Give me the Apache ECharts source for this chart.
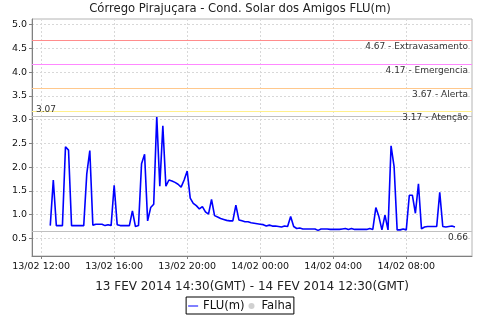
<!DOCTYPE html>
<html><head><meta charset="utf-8">
<script src="https://cdn.jsdelivr.net/npm/echarts@6/dist/echarts.min.js"></script>
<style>html,body{margin:0;padding:0;background:#fff}#c{width:480px;height:320px}</style>
</head><body><div id="c"></div>
<script>
// Sampling: every 10 minutes from 13/02 12:30 (local)
const startTime = Date.UTC(2014, 1, 13, 12, 30);
const stepMinutes = 10;
const levelValues = [
  0.77, 1.73, 0.77, 0.77, 0.77, 2.43, 2.36, 0.77, 0.77, 0.77,
  0.77, 0.77, 1.86, 2.35, 0.78, 0.80, 0.80, 0.80, 0.77, 0.79,
  0.77, 1.62, 0.79, 0.77, 0.77, 0.77, 0.77, 1.08, 0.75, 0.77,
  2.07, 2.27, 0.87, 1.15, 1.22, 3.07, 1.60, 2.87, 1.60, 1.73,
  1.71, 1.68, 1.64, 1.58, 1.73, 1.92, 1.35, 1.24, 1.19, 1.12,
  1.17, 1.06, 1.01, 1.32, 0.98, 0.95, 0.92, 0.90, 0.88, 0.87,
  0.87, 1.20, 0.89, 0.87, 0.85, 0.85, 0.83, 0.82, 0.81, 0.80,
  0.79, 0.76, 0.78, 0.76, 0.76, 0.75, 0.74, 0.76, 0.75, 0.96,
  0.75, 0.71, 0.72, 0.70, 0.70, 0.70, 0.70, 0.70, 0.67, 0.70,
  0.70, 0.70, 0.69, 0.69, 0.69, 0.69, 0.70, 0.71, 0.69, 0.71,
  0.69, 0.69, 0.69, 0.69, 0.69, 0.71, 0.69, 1.15, 0.96, 0.68,
  0.99, 0.68, 2.45, 2.01, 0.68, 0.68, 0.70, 0.68, 1.41, 1.41,
  1.03, 1.65, 0.70, 0.74, 0.75, 0.75, 0.75, 0.75, 1.47, 0.75,
  0.74, 0.75, 0.76, 0.74
];
const xTickTimes = [
  Date.UTC(2014, 1, 13, 12), Date.UTC(2014, 1, 13, 16), Date.UTC(2014, 1, 13, 20),
  Date.UTC(2014, 1, 14, 0), Date.UTC(2014, 1, 14, 4), Date.UTC(2014, 1, 14, 8)
];
const xTickLabels = ['13/02 12:00', '13/02 16:00', '13/02 20:00', '14/02 00:00', '14/02 04:00', '14/02 08:00'];
const yTickValues = [0.5, 1.0, 1.5, 2.0, 2.5, 3.0, 3.5, 4.0, 4.5, 5.0];
const thresholdValues = [4.67, 4.17, 3.67, 3.17];
const thresholdNames = ['Extravasamento', 'Emergencia', 'Alerta', 'Atenção'];
const thresholdColors = ['#ff8c8c', '#ff88ff', '#ffc88c', '#fff08c'];
const maxLevel = 3.07;
const minLevel = 0.66;
const xMin = Date.UTC(2014, 1, 13, 11, 30);
const xMax = Date.UTC(2014, 1, 14, 11, 36);

const FONT = 'DejaVu Sans';
const seriesData = levelValues.map((v, i) => [startTime + i * stepMinutes * 60000, v]);

const markData = thresholdValues.map((v, i) => ({
  yAxis: v,
  lineStyle: { color: thresholdColors[i], width: 1, type: 'solid' },
  label: { formatter: v.toFixed(2) + ' - ' + thresholdNames[i], position: 'insideEndBottom' }
}));
markData.push({
  yAxis: maxLevel,
  lineStyle: { color: '#c0c0c0', width: 1, type: 'solid' },
  label: { formatter: maxLevel.toFixed(2), position: 'insideStartTop' }
});
markData.push({
  yAxis: minLevel,
  lineStyle: { color: '#c0c0c0', width: 1, type: 'solid' },
  label: { formatter: minLevel.toFixed(2), position: 'insideEndBottom' }
});

const chart = echarts.init(document.getElementById('c'), null, { renderer: 'canvas' });
chart.setOption({
  animation: false,
  backgroundColor: '#ffffff',
  textStyle: { fontFamily: FONT },
  title: {
    text: 'Córrego Pirajuçara - Cond. Solar dos Amigos FLU(m)',
    left: 'center', top: -2,
    textStyle: { fontFamily: FONT, fontSize: 11.6, fontWeight: 'normal', color: '#222' }
  },
  grid: { left: 32, right: 8, top: 19, bottom: 64, show: true, borderColor: '#b4b4b4', borderWidth: 1, backgroundColor: '#fff' },
  xAxis: {
    type: 'value', min: xMin, max: xMax,
    name: '13 FEV 2014 14:30(GMT) - 14 FEV 2014 12:30(GMT)',
    nameLocation: 'middle', nameGap: 25,
    nameTextStyle: { fontFamily: FONT, fontSize: 12, color: '#222' },
    axisLine: { lineStyle: { color: '#808080' } },
    axisTick: { show: true, length: 3, customValues: xTickTimes, lineStyle: { color: '#808080' } },
    axisLabel: {
      customValues: xTickTimes, fontFamily: FONT, fontSize: 9.5, color: '#111', margin: 6,
      formatter: (v) => xTickLabels[xTickTimes.indexOf(v)] || ''
    },
    splitLine: { show: true, lineStyle: { color: '#d8d8d8', type: [2, 2] } }
  },
  yAxis: {
    type: 'value', min: 0.13, max: 5.12,
    axisLine: { show: true, lineStyle: { color: '#808080' } },
    axisTick: { show: true, length: 3, customValues: yTickValues, lineStyle: { color: '#808080' } },
    axisLabel: {
      customValues: yTickValues, fontFamily: FONT, fontSize: 9.5, color: '#111', margin: 5,
      formatter: (v) => v.toFixed(1)
    },
    splitLine: { show: true, lineStyle: { color: '#d8d8d8', type: [2, 2] } }
  },
  legend: {
    top: 297, left: 'center',
    data: [{ name: 'FLU(m)', icon: 'path://M0,0 L20,0 L20,2 L0,2 Z' }, { name: 'Falha', icon: 'circle' }],
    itemWidth: 10, itemHeight: 6, itemGap: 4,
    borderColor: '#000', borderWidth: 1, padding: [3, 2, 2, 2],
    textStyle: { fontFamily: FONT, fontSize: 11.6, color: '#111' }
  },
  series: [
    {
      name: 'FLU(m)', type: 'line', data: seriesData, symbol: 'none',
      color: '#0000ff',
      lineStyle: { color: '#0000ff', width: 1.6 },
      z: 3,
      markLine: {
        silent: true, symbol: ['none', 'none'],
        label: { fontFamily: FONT, fontSize: 9, color: '#333', distance: [4, 2] },
        data: markData
      }
    },
    { name: 'Falha', type: 'scatter', data: [], color: '#c4c4c4', symbolSize: 8 }
  ]
});
</script>
</body></html>
